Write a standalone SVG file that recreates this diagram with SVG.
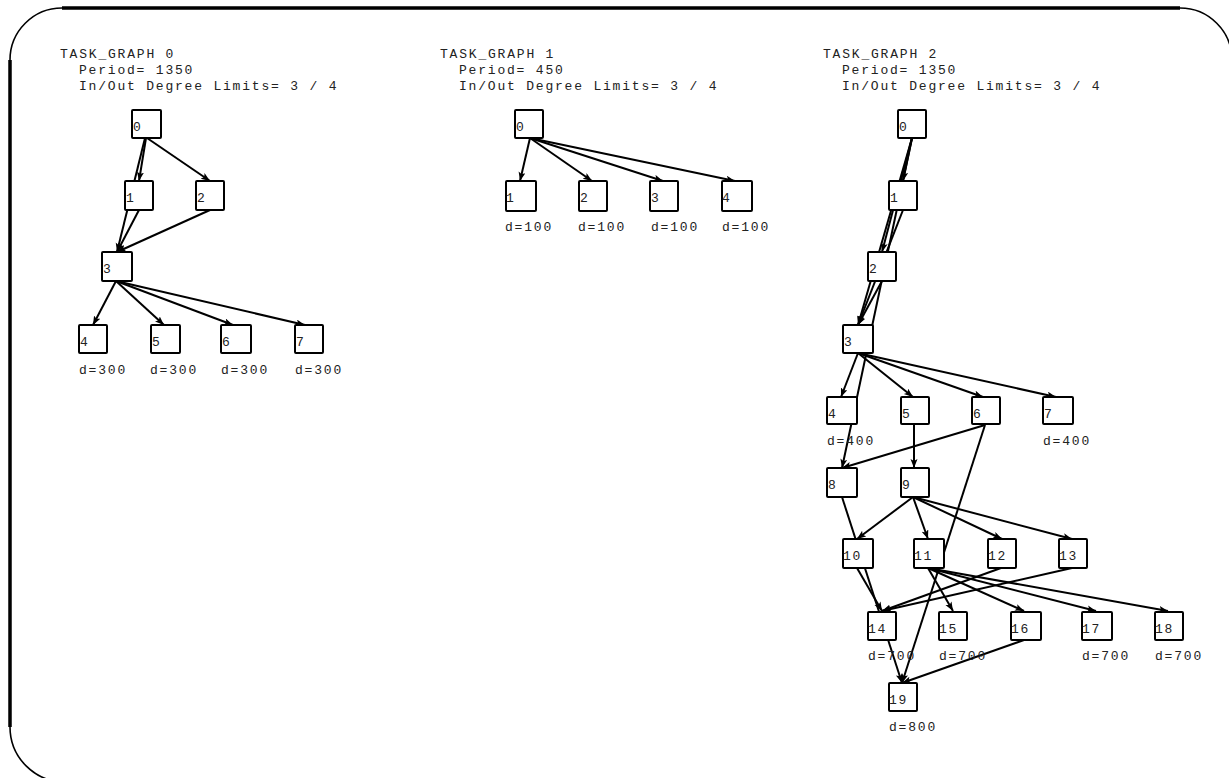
<svg xmlns="http://www.w3.org/2000/svg" width="1229" height="778" viewBox="0 0 1229 778">
<style>
text{font-family:"Liberation Mono","DejaVu Sans Mono",monospace;font-size:13px;letter-spacing:1.8px;fill:#222}
.nd rect{fill:#fff;stroke:#000;stroke-width:2;rx:1}
.nd text{letter-spacing:1.8px}
.e line{stroke:#000;stroke-width:2;marker-end:url(#ah)}
.frame{fill:none;stroke:#000}
</style>
<defs>
<marker id="ah" markerUnits="userSpaceOnUse" markerWidth="12" markerHeight="10" refX="9" refY="3.5" orient="auto">
<path d="M0,0 L9,3.5 L0,7 L2,3.5 z" fill="#000"/>
</marker>
</defs>
<rect width="1229" height="778" fill="#fff"/>
<g id="frame">
<path class="frame" stroke-width="3.5" d="M62,8 H1180 M10,60 V727"/>
<path class="frame" stroke-width="1.6" d="M10,60 A52,52 0 0 1 62,8 M1180,8 A52,52 0 0 1 1232,60 M10,727 A55,55 0 0 0 65,782"/>
</g>
<g id="titles">
<g id="title0"><text x="60" y="57.5">TASK_GRAPH 0</text><text x="79" y="73.5">Period= 1350</text><text x="79" y="89.5">In/Out Degree Limits= 3 / 4</text></g>
<g id="title1"><text x="440" y="57.5">TASK_GRAPH 1</text><text x="459" y="73.5">Period= 450</text><text x="459" y="89.5">In/Out Degree Limits= 3 / 4</text></g>
<g id="title2"><text x="823" y="57.5">TASK_GRAPH 2</text><text x="842" y="73.5">Period= 1350</text><text x="842" y="89.5">In/Out Degree Limits= 3 / 4</text></g>
</g>
<g id="connectors" class="e">
<!-- TG0 -->
<line x1="146" y1="138" x2="139" y2="181"/>
<line x1="147" y1="138" x2="210" y2="181"/>
<line x1="145" y1="138" x2="117" y2="252"/>
<line x1="139" y1="210" x2="117" y2="252"/>
<line x1="210" y1="210" x2="117" y2="252"/>
<line x1="116" y1="281" x2="93" y2="325"/>
<line x1="116" y1="281" x2="164" y2="325"/>
<line x1="116" y1="281" x2="233" y2="325"/>
<line x1="116" y1="281" x2="305" y2="325"/>
<!-- TG1 -->
<line x1="530" y1="138" x2="520" y2="181"/>
<line x1="530" y1="138" x2="592" y2="181"/>
<line x1="530" y1="138" x2="663" y2="181"/>
<line x1="530" y1="138" x2="735" y2="181"/>
<!-- TG2 -->
<line x1="912" y1="138" x2="903" y2="181"/>
<line x1="912" y1="138" x2="882" y2="252"/>
<line x1="912" y1="138" x2="858" y2="325"/>
<line x1="912" y1="138" x2="842" y2="468"/>
<line x1="903" y1="210" x2="858" y2="325"/>
<line x1="882" y1="281" x2="858" y2="325"/>
<line x1="858" y1="353" x2="841" y2="397"/>
<line x1="858" y1="353" x2="913" y2="397"/>
<line x1="858" y1="353" x2="983" y2="397"/>
<line x1="858" y1="353" x2="1056" y2="397"/>
<line x1="914" y1="425" x2="914" y2="468"/>
<line x1="985" y1="425" x2="842" y2="468"/>
<line x1="985" y1="425" x2="902" y2="683"/>
<line x1="842" y1="497" x2="902" y2="683"/>
<line x1="913" y1="497" x2="857" y2="539"/>
<line x1="913" y1="497" x2="928" y2="539"/>
<line x1="913" y1="497" x2="1002" y2="539"/>
<line x1="913" y1="497" x2="1072" y2="539"/>
<line x1="857" y1="568" x2="882" y2="611"/>
<line x1="928" y1="568" x2="953" y2="611"/>
<line x1="928" y1="568" x2="1024" y2="611"/>
<line x1="928" y1="568" x2="1096" y2="611"/>
<line x1="928" y1="568" x2="1168" y2="611"/>
<line x1="1001" y1="568" x2="882" y2="611"/>
<line x1="1072" y1="568" x2="882" y2="611"/>
<line x1="1024" y1="640" x2="902" y2="683"/>
</g>
<!-- TG0 nodes -->
<g id="tg0-n0" class="nd"><rect x="132" y="110" width="29" height="28"/><text x="133" y="131">0</text></g>
<g id="tg0-n1" class="nd"><rect x="125" y="181" width="28" height="29"/><text x="126" y="202">1</text></g>
<g id="tg0-n2" class="nd"><rect x="196" y="181" width="28" height="29"/><text x="197" y="202">2</text></g>
<g id="tg0-n3" class="nd"><rect x="102" y="252" width="30" height="29"/><text x="103" y="273">3</text></g>
<g id="tg0-n4" class="nd"><rect x="79" y="325" width="28" height="28"/><text x="80" y="346">4</text><text x="79" y="374">d=300</text></g>
<g id="tg0-n5" class="nd"><rect x="151" y="325" width="29" height="28"/><text x="152" y="346">5</text><text x="150" y="374">d=300</text></g>
<g id="tg0-n6" class="nd"><rect x="221" y="325" width="30" height="28"/><text x="222" y="346">6</text><text x="221" y="374">d=300</text></g>
<g id="tg0-n7" class="nd"><rect x="295" y="325" width="28" height="28"/><text x="296" y="346">7</text><text x="295" y="374">d=300</text></g>
<!-- TG1 nodes -->
<g id="tg1-n0" class="nd"><rect x="515" y="110" width="28" height="28"/><text x="516" y="131">0</text></g>
<g id="tg1-n1" class="nd"><rect x="506" y="181" width="30" height="30"/><text x="506" y="202">1</text><text x="505" y="231">d=100</text></g>
<g id="tg1-n2" class="nd"><rect x="579" y="181" width="28" height="30"/><text x="580" y="202">2</text><text x="578" y="231">d=100</text></g>
<g id="tg1-n3" class="nd"><rect x="650" y="181" width="28" height="30"/><text x="651" y="202">3</text><text x="651" y="231">d=100</text></g>
<g id="tg1-n4" class="nd"><rect x="722" y="181" width="30" height="30"/><text x="722" y="202">4</text><text x="722" y="231">d=100</text></g>
<!-- TG2 nodes -->
<g id="tg2-n0" class="nd"><rect x="898" y="110" width="28" height="28"/><text x="899" y="131">0</text></g>
<g id="tg2-n1" class="nd"><rect x="889" y="181" width="28" height="29"/><text x="890" y="202">1</text></g>
<g id="tg2-n2" class="nd"><rect x="868" y="252" width="28" height="29"/><text x="869" y="273">2</text></g>
<g id="tg2-n3" class="nd"><rect x="843" y="325" width="30" height="28"/><text x="844" y="346">3</text></g>
<g id="tg2-n4" class="nd"><rect x="827" y="397" width="30" height="27"/><text x="828" y="418">4</text><text x="827" y="445">d=400</text></g>
<g id="tg2-n5" class="nd"><rect x="901" y="397" width="28" height="27"/><text x="902" y="418">5</text></g>
<g id="tg2-n6" class="nd"><rect x="972" y="397" width="28" height="27"/><text x="973" y="418">6</text></g>
<g id="tg2-n7" class="nd"><rect x="1043" y="397" width="30" height="27"/><text x="1044" y="418">7</text><text x="1043" y="445">d=400</text></g>
<g id="tg2-n8" class="nd"><rect x="827" y="468" width="30" height="29"/><text x="828" y="489">8</text></g>
<g id="tg2-n9" class="nd"><rect x="901" y="468" width="28" height="29"/><text x="902" y="489">9</text></g>
<g id="tg2-n10" class="nd"><rect x="843" y="539" width="30" height="29"/><text x="843" y="560">10</text></g>
<g id="tg2-n11" class="nd"><rect x="914" y="539" width="30" height="29"/><text x="914" y="560">11</text></g>
<g id="tg2-n12" class="nd"><rect x="988" y="539" width="28" height="29"/><text x="988" y="560">12</text></g>
<g id="tg2-n13" class="nd"><rect x="1059" y="539" width="28" height="29"/><text x="1059" y="560">13</text></g>
<g id="tg2-n14" class="nd"><rect x="868" y="612" width="28" height="28"/><text x="868" y="633">14</text><text x="868" y="660">d=700</text></g>
<g id="tg2-n15" class="nd"><rect x="939" y="612" width="28" height="28"/><text x="939" y="633">15</text><text x="939" y="660">d=700</text></g>
<g id="tg2-n16" class="nd"><rect x="1011" y="612" width="30" height="28"/><text x="1011" y="633">16</text></g>
<g id="tg2-n17" class="nd"><rect x="1082" y="612" width="30" height="28"/><text x="1082" y="633">17</text><text x="1082" y="660">d=700</text></g>
<g id="tg2-n18" class="nd"><rect x="1155" y="612" width="28" height="28"/><text x="1155" y="633">18</text><text x="1155" y="660">d=700</text></g>
<g id="tg2-n19" class="nd"><rect x="889" y="683" width="28" height="28"/><text x="889" y="704">19</text><text x="889" y="731">d=800</text></g>
</svg>
